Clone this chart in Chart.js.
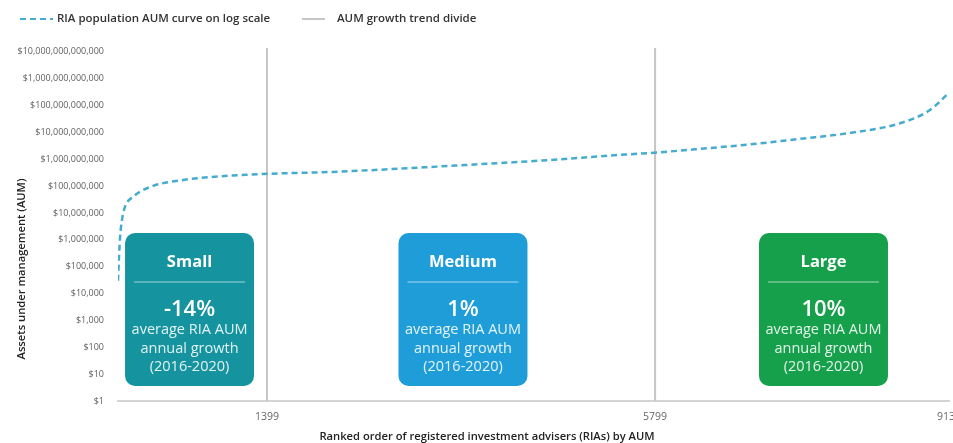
<!DOCTYPE html>
<html>
<head>
<meta charset="utf-8">
<script src="https://cdn.jsdelivr.net/npm/chart.js@4.4.0/dist/chart.umd.min.js"></script>
<style>
  html, body { margin: 0; padding: 0; overflow: hidden; background: #fff; }
  #wrap { width: 980px; height: 443px; }
</style>
</head>
<body>
<div id="wrap"><canvas id="aumChart" width="980" height="443"></canvas></div>
<script>
// ranked order of RIAs (x) and their AUM (y, log scale)
const rankOrder = [-290, -279, -267, -245, -211, -120, 73, 447, 1320, 2147, 3667, 4721, 5174, 5866, 6308, 6875, 7442, 8009, 8576, 8916, 9131];
const aumValues = [3e4, 2.1e5, 1.2e6, 5.5e6, 1.7e7, 4e7, 9.3e7, 1.7e8, 2.8e8, 3.4e8, 6.2e8, 1e9, 1.3e9, 1.85e9, 2.45e9, 3.6e9, 5.8e9, 9.6e9, 2.2e10, 6.9e10, 3e11];
const divideRanks = [1399, 5799];
const rankTicks = [1399, 5799, 9131];
const aumTicks = [1, 10, 100, 1e3, 1e4, 1e5, 1e6, 1e7, 1e8, 1e9, 1e10, 1e11, 1e12, 1e13];
const segmentNames = ["Small", "Medium", "Large"];
const segmentGrowth = ["-14%", "1%", "10%"];
const segmentNote = ["average RIA AUM", "annual growth", "(2016-2020)"];

const Y_MIN = 1, Y_MAX = 1.4e13;
const FONT = "'Open Sans', sans-serif";

const curveColor = "#45acd0";
const divideColor = "#c6c6c6";

// divider lines: one dataset, broken by a null point
const divideData = [];
divideRanks.forEach((r, i) => {
    if (i > 0) divideData.push({ x: (r + divideRanks[i - 1]) / 2, y: null });
    divideData.push({ x: r, y: Y_MIN }, { x: r, y: Y_MAX });
});

const boxes = {
    centers: [521, 3621, 7708],
    colors: ["#15949f", "#1f9dd8", "#16a04b"],
    width: 129, top: 233, height: 153, radius: 10
};

function roundRect(ctx, x, y, w, h, r) {
    ctx.beginPath();
    ctx.moveTo(x + r, y);
    ctx.arcTo(x + w, y, x + w, y + h, r);
    ctx.arcTo(x + w, y + h, x, y + h, r);
    ctx.arcTo(x, y + h, x, y, r);
    ctx.arcTo(x, y, x + w, y, r);
    ctx.closePath();
}

const decorPlugin = {
    id: "decor",
    afterDatasetsDraw(chart) {
        const ctx = chart.ctx;
        const xs = chart.scales.x;
        ctx.save();
        segmentNames.forEach((name, i) => {
            const cx = xs.getPixelForValue(boxes.centers[i]);
            const left = cx - boxes.width / 2, top = boxes.top;
            ctx.fillStyle = boxes.colors[i];
            roundRect(ctx, left, top, boxes.width, boxes.height, boxes.radius);
            ctx.fill();
            ctx.textAlign = "center";
            ctx.textBaseline = "middle";
            ctx.fillStyle = "#ffffff";
            ctx.font = "bold 16.5px " + FONT;
            ctx.fillText(name, cx, top + 29);
            ctx.strokeStyle = "rgba(255,255,255,0.3)";
            ctx.lineWidth = 2;
            ctx.beginPath();
            ctx.moveTo(left + 9, top + 49);
            ctx.lineTo(left + boxes.width - 9, top + 49);
            ctx.stroke();
            ctx.font = "600 22px " + FONT;
            ctx.fillText(segmentGrowth[i], cx, top + 77);
            ctx.fillStyle = "rgba(255,255,255,0.88)";
            ctx.font = "14.5px " + FONT;
            segmentNote.forEach((t, k) => ctx.fillText(t, cx, top + 97 + k * 18.5));
        });
        ctx.restore();
    },
    afterDraw(chart) {
        const ctx = chart.ctx;
        ctx.save();
        // legend
        ctx.textBaseline = "middle";
        ctx.textAlign = "left";
        ctx.font = "600 11.5px " + FONT;
        ctx.lineWidth = 2;
        ctx.strokeStyle = curveColor;
        ctx.setLineDash([6, 4]);
        ctx.beginPath(); ctx.moveTo(20, 19); ctx.lineTo(53, 19); ctx.stroke();
        ctx.setLineDash([]);
        ctx.fillStyle = "#333";
        ctx.fillText(chart.data.datasets[0].label, 57, 19);
        ctx.strokeStyle = divideColor;
        ctx.beginPath(); ctx.moveTo(302, 19); ctx.lineTo(325, 19); ctx.stroke();
        ctx.fillText(chart.data.datasets[1].label, 337, 19);
        // axis titles
        ctx.textAlign = "center";
        ctx.font = "600 11.2px " + FONT;
        ctx.fillStyle = "#222";
        ctx.fillText("Ranked order of registered investment advisers (RIAs) by AUM", 487, 437);
        ctx.translate(22, 269);
        ctx.rotate(-Math.PI / 2);
        ctx.font = "600 11.2px " + FONT;
        ctx.fillText("Assets under management (AUM)", 0, 0);
        ctx.restore();
    }
};

new Chart(document.getElementById("aumChart"), {
    type: "line",
    data: {
        datasets: [{
            label: "RIA population AUM curve on log scale",
            data: rankOrder.map((r, i) => ({ x: r, y: aumValues[i] })),
            borderColor: curveColor,
            borderWidth: 2.5,
            borderDash: [6, 4],
            pointRadius: 0,
            cubicInterpolationMode: "monotone",
            fill: false
        }, {
            label: "AUM growth trend divide",
            data: divideData,
            borderColor: divideColor,
            borderWidth: 2,
            pointRadius: 0,
            spanGaps: false,
            fill: false
        }]
    },
    options: {
        responsive: false,
        animation: false,
        layout: { padding: { left: 0, right: 31, top: 48, bottom: 0 } },
        plugins: { legend: { display: false }, tooltip: { enabled: false } },
        scales: {
            x: {
                type: "linear",
                min: -290,
                max: 9131,
                afterBuildTicks: s => { s.ticks = rankTicks.map(v => ({ value: v })); },
                afterFit: s => { s.height = 42; },
                grid: { display: false, drawTicks: false },
                border: { display: true, color: "#d4d4d4", width: 2 },
                ticks: {
                    color: "#666",
                    font: { family: FONT, size: 10.5 },
                    padding: 10,
                    maxRotation: 0,
                    autoSkip: false,
                    callback: v => String(v)
                }
            },
            y: {
                type: "logarithmic",
                min: Y_MIN,
                max: Y_MAX,
                afterBuildTicks: s => { s.ticks = aumTicks.map(v => ({ value: v })); },
                afterFit: s => { s.width = 118; },
                grid: { display: false, drawTicks: false },
                border: { display: false },
                ticks: {
                    color: "#5e5e5e",
                    font: { family: FONT, size: 9 },
                    padding: 14,
                    autoSkip: false,
                    callback: v => "$" + Number(v).toLocaleString("en-US")
                }
            }
        }
    },
    plugins: [decorPlugin]
});
</script>
</body>
</html>
